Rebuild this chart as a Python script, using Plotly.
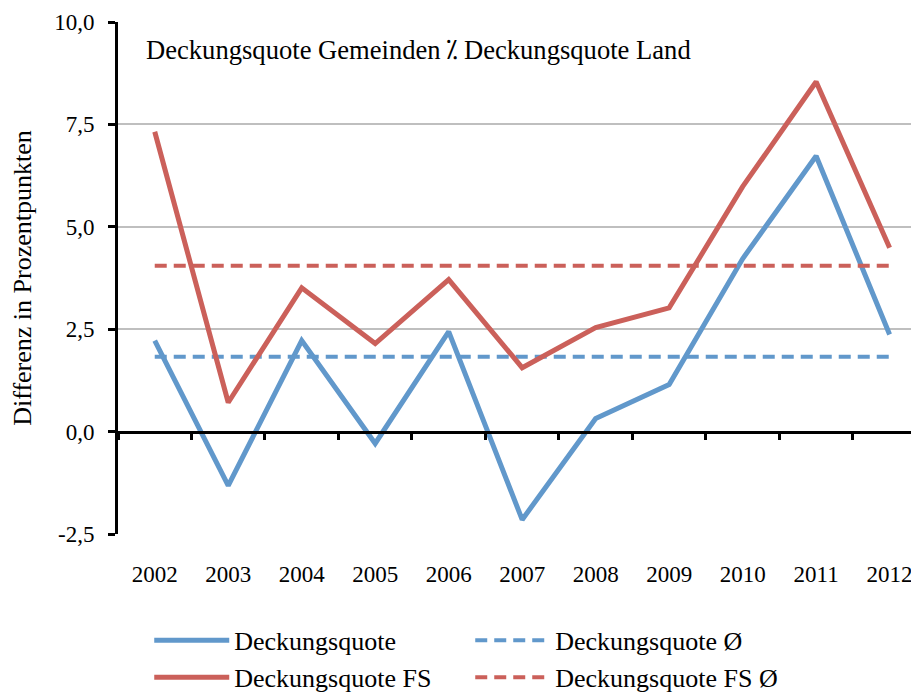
import plotly.graph_objects as go

years = ["2002", "2003", "2004", "2005", "2006", "2007", "2008", "2009", "2010", "2011", "2012"]
deckungsquote = [2.22, -1.32, 2.22, -0.29, 2.44, -2.15, 0.32, 1.15, 4.22, 6.73, 2.37]
deckungsquote_fs = [7.32, 0.71, 3.51, 2.15, 3.71, 1.56, 2.54, 3.02, 5.98, 8.54, 4.49]
avg_dq = 1.83
avg_fs = 4.05
y_ticks = [-2.5, 0.0, 2.5, 5.0, 7.5, 10.0]
y_tick_text = ["-2,5", "0,0", "2,5", "5,0", "7,5", "10,0"]

BLUE = "#6198CB"
RED = "#CB605A"
FONT = "Liberation Serif"
TICK_SIZE = 23
TEXT_SIZE = 26

x = list(range(len(years)))
fig = go.Figure()
fig.add_trace(go.Scatter(x=x, y=deckungsquote, mode="lines", name="Deckungsquote",
                         line=dict(color=BLUE, width=5)))
fig.add_trace(go.Scatter(x=x, y=[avg_dq] * len(years), mode="lines", name="Deckungsquote Ø",
                         line=dict(color=BLUE, width=4, dash="12px,7px")))
fig.add_trace(go.Scatter(x=x, y=deckungsquote_fs, mode="lines", name="Deckungsquote FS",
                         line=dict(color=RED, width=5)))
fig.add_trace(go.Scatter(x=x, y=[avg_fs] * len(years), mode="lines", name="Deckungsquote FS Ø",
                         line=dict(color=RED, width=4, dash="12px,7px")))
# invisible trace to activate the zero-line axis
fig.add_trace(go.Scatter(x=[x[0]], y=[0], xaxis="x2", mode="lines", showlegend=False,
                         hoverinfo="skip", line=dict(width=0)))

boundaries = [i - 0.5 for i in range(len(years) + 1)]

fig.update_layout(
    width=911, height=689,
    margin=dict(l=110, r=0, t=14, b=163, autoexpand=False),
    paper_bgcolor="white", plot_bgcolor="white",
    font=dict(family=FONT, size=TEXT_SIZE, color="black"),
    separators=",.",
    showlegend=True,
    legend=dict(orientation="h", x=0.039, y=-0.162, xanchor="left", yanchor="top",
                entrywidth=231, itemwidth=75, font=dict(size=TEXT_SIZE, family=FONT),
                tracegroupgap=0, traceorder="normal"),
    xaxis=dict(range=[-0.5, 10.4], tickmode="array", tickvals=x, ticktext=years,
               showgrid=False, zeroline=False, showline=False,
               ticks="outside", ticklen=19, tickcolor="rgba(0,0,0,0)",
               tickfont=dict(size=TICK_SIZE, family=FONT)),
    xaxis2=dict(range=[-0.5, 10.4], overlaying="x", anchor="free", position=0.2,
                side="bottom", showline=True, linecolor="black", linewidth=3,
                tickmode="array", tickvals=boundaries, ticks="outside", ticklen=6,
                tickwidth=3, tickcolor="black", showticklabels=False,
                showgrid=False, zeroline=False),
    yaxis=dict(range=[-2.5, 10.0], tickmode="array", tickvals=y_ticks, ticktext=y_tick_text,
               showgrid=True, gridcolor="#BFBFBF", gridwidth=2, zeroline=False,
               showline=True, linecolor="black", linewidth=3,
               ticks="outside", ticklen=7, tickwidth=3, tickcolor="black",
               ticklabelstandoff=9,
               tickfont=dict(size=TICK_SIZE, family=FONT),
               title=dict(text="Differenz in Prozentpunkten",
                          font=dict(size=TEXT_SIZE, family=FONT), standoff=20)),
    annotations=[dict(text="Deckungsquote Gemeinden ⁒ Deckungsquote Land",
                      xref="paper", yref="paper", x=0.033, y=0.945,
                      xanchor="left", yanchor="middle", showarrow=False,
                      font=dict(size=26.6, family=FONT))],
)

fig.write_html("out.html")
